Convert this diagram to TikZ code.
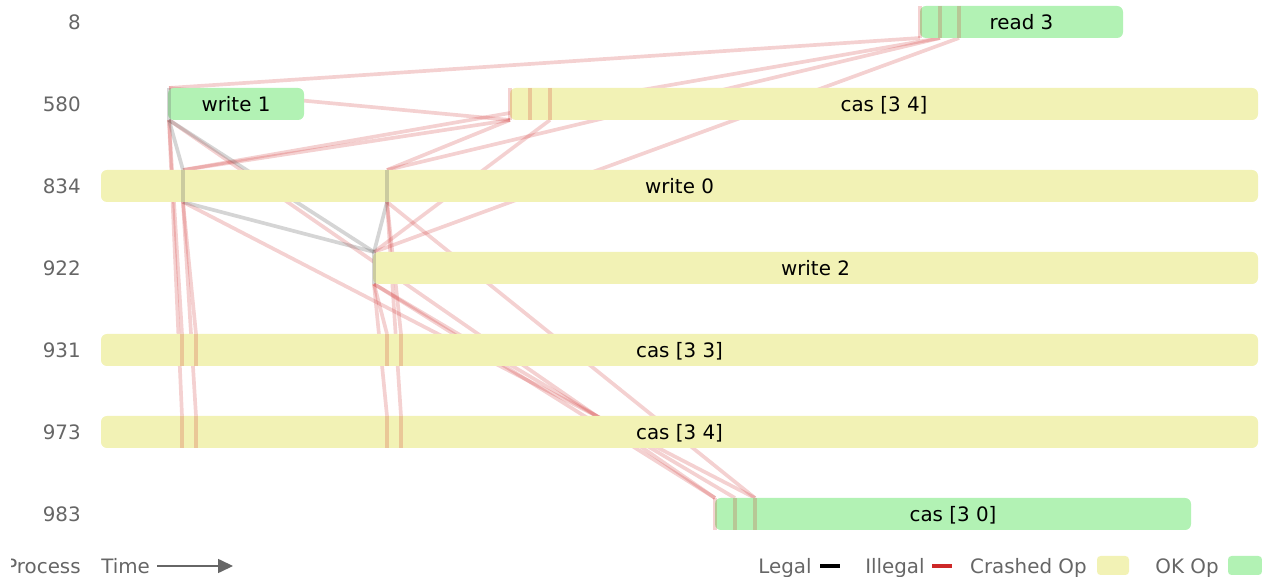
\documentclass[tikz,border=0pt]{standalone}
\usepackage{fontspec}
\setmainfont{DejaVu Sans}
\usetikzlibrary{arrows.meta}

\definecolor{crashed}{RGB}{242,242,181}
\definecolor{okop}{RGB}{178,242,180}
\definecolor{illegal}{RGB}{205,40,40}
\definecolor{legal}{RGB}{105,105,105}
\definecolor{labelgray}{RGB}{102,102,102}

\begin{document}
\begin{tikzpicture}[x=0.02cm, y=-0.02cm,
    every node/.style={font=\fontsize{11.3}{13}\selectfont, text height=8pt, text depth=0pt, inner sep=0pt},
    bad/.style={illegal, opacity=0.21, line width=2.1pt},
    good/.style={legal, opacity=0.28, line width=2.1pt},
    lab/.style={labelgray}]
    \useasboundingbox (0,0) rectangle (1262,577);

    % top and bottom ends of every linearization tick
    \foreach \n/\x/\y in {rdA/920/6, rdB/940/6, rdC/959/6, w1A/169/88, cA/510/88, cB/530/88, cC/550/88,
                          w0A/183/170, w0B/387/170, w2A/374/252,
                          dA/182/334, dB/196/334, dC/387/334, dD/401/334,
                          eA/182/416, eB/196/416, eC/387/416, eD/401/416,
                          fA/715/498, fB/735/498, fC/755/498}
    {
        \coordinate (\n-t) at (\x,\y);
        \coordinate (\n-b) at (\x,\y+32);
    }

    % links between ops, under the bars
    \foreach \a/\b in {rdA-b/w1A-t, rdB-b/w0A-t, rdB-b/w0B-t, rdC-b/w2A-t,
                       w1A-t/cA-b, cA-b/w0A-t, cA-b/w0B-t, cC-b/w2A-t,
                       w1A-b/dA-t, w1A-b/eA-t, w0A-b/dB-t, w0A-b/eB-t,
                       w2A-b/dC-t, w2A-b/eC-t, w0B-b/dD-t, w0B-b/eD-t,
                       w1A-b/fA-t, w2A-b/fA-t, w2A-b/fB-t, w0A-b/fC-t, w0B-b/fC-t}
        \draw[bad] (\a) -- (\b);
    \foreach \a/\b in {w1A-b/w0A-t, w1A-b/w2A-t, w0A-b/w2A-t, w0B-b/w2A-t}
        \draw[good] (\a) -- (\b);

    % op bars
    \foreach \n/\xa/\xb/\y/\col/\txt in {rd/920/1123/22/okop/read 3,
                                         w1/168/304/104/okop/write 1,
                                         casA/510/1258/104/crashed/cas [3 4],
                                         w0/101/1258/186/crashed/write 0,
                                         w2/373/1258/268/crashed/write 2,
                                         casB/101/1258/350/crashed/cas [3 3],
                                         casC/101/1258/432/crashed/cas [3 4],
                                         casD/715/1191/514/okop/cas [3 0]}
    {
        \fill[\col, rounded corners=3.4pt] (\xa,\y-16) rectangle (\xb,\y+16);
        \node (\n) at ({(\xa+\xb)/2},\y) {\txt};
    }

    % ticks on top of the bars
    \foreach \n in {rdA,rdB,rdC,cA,cB,cC,dA,dB,dC,dD,eA,eB,eC,eD,fA,fB,fC}
        \draw[bad] (\n-t) -- (\n-b);
    \foreach \n in {w1A,w0A,w0B,w2A}
        \draw[good] (\n-t) -- (\n-b);

    % process names
    \foreach \y/\p in {22/8, 104/580, 186/834, 268/922, 350/931, 432/973, 514/983}
        \node[lab, anchor=east] (p\p) at (81,\y) {\p};

    % axis and legend
    \begin{scope}
        \clip (11,540) rectangle (95,577);
        \node[lab, anchor=east] (proc) at (81,566) {Process};
    \end{scope}
    \node[lab, anchor=west] (time) at (101,566) {Time};
    \coordinate (tend) at (233,566);
    \draw[labelgray, line width=0.7pt, -{Triangle[length=8.5pt, width=8pt]}] ([xshift=4pt]time.east) -- (tend);

    \node[lab, anchor=east] (legal) at (812,566) {Legal};
    \draw[black, line width=1.8pt] (820,566) -- (840,566);
    \node[lab, anchor=east] (illegal) at (925,566) {Illegal};
    \draw[illegal, line width=1.8pt] (932,566) -- (952,566);
    \node[lab, anchor=east] (crashop) at (1087,566) {Crashed Op};
    \fill[crashed, rounded corners=2pt] (1097,556) rectangle (1129,575);
    \node[lab, anchor=east] (okopl) at (1219,566) {OK Op};
    \fill[okop, rounded corners=2pt] (1228,556) rectangle (1262,575);
\end{tikzpicture}
\end{document}
